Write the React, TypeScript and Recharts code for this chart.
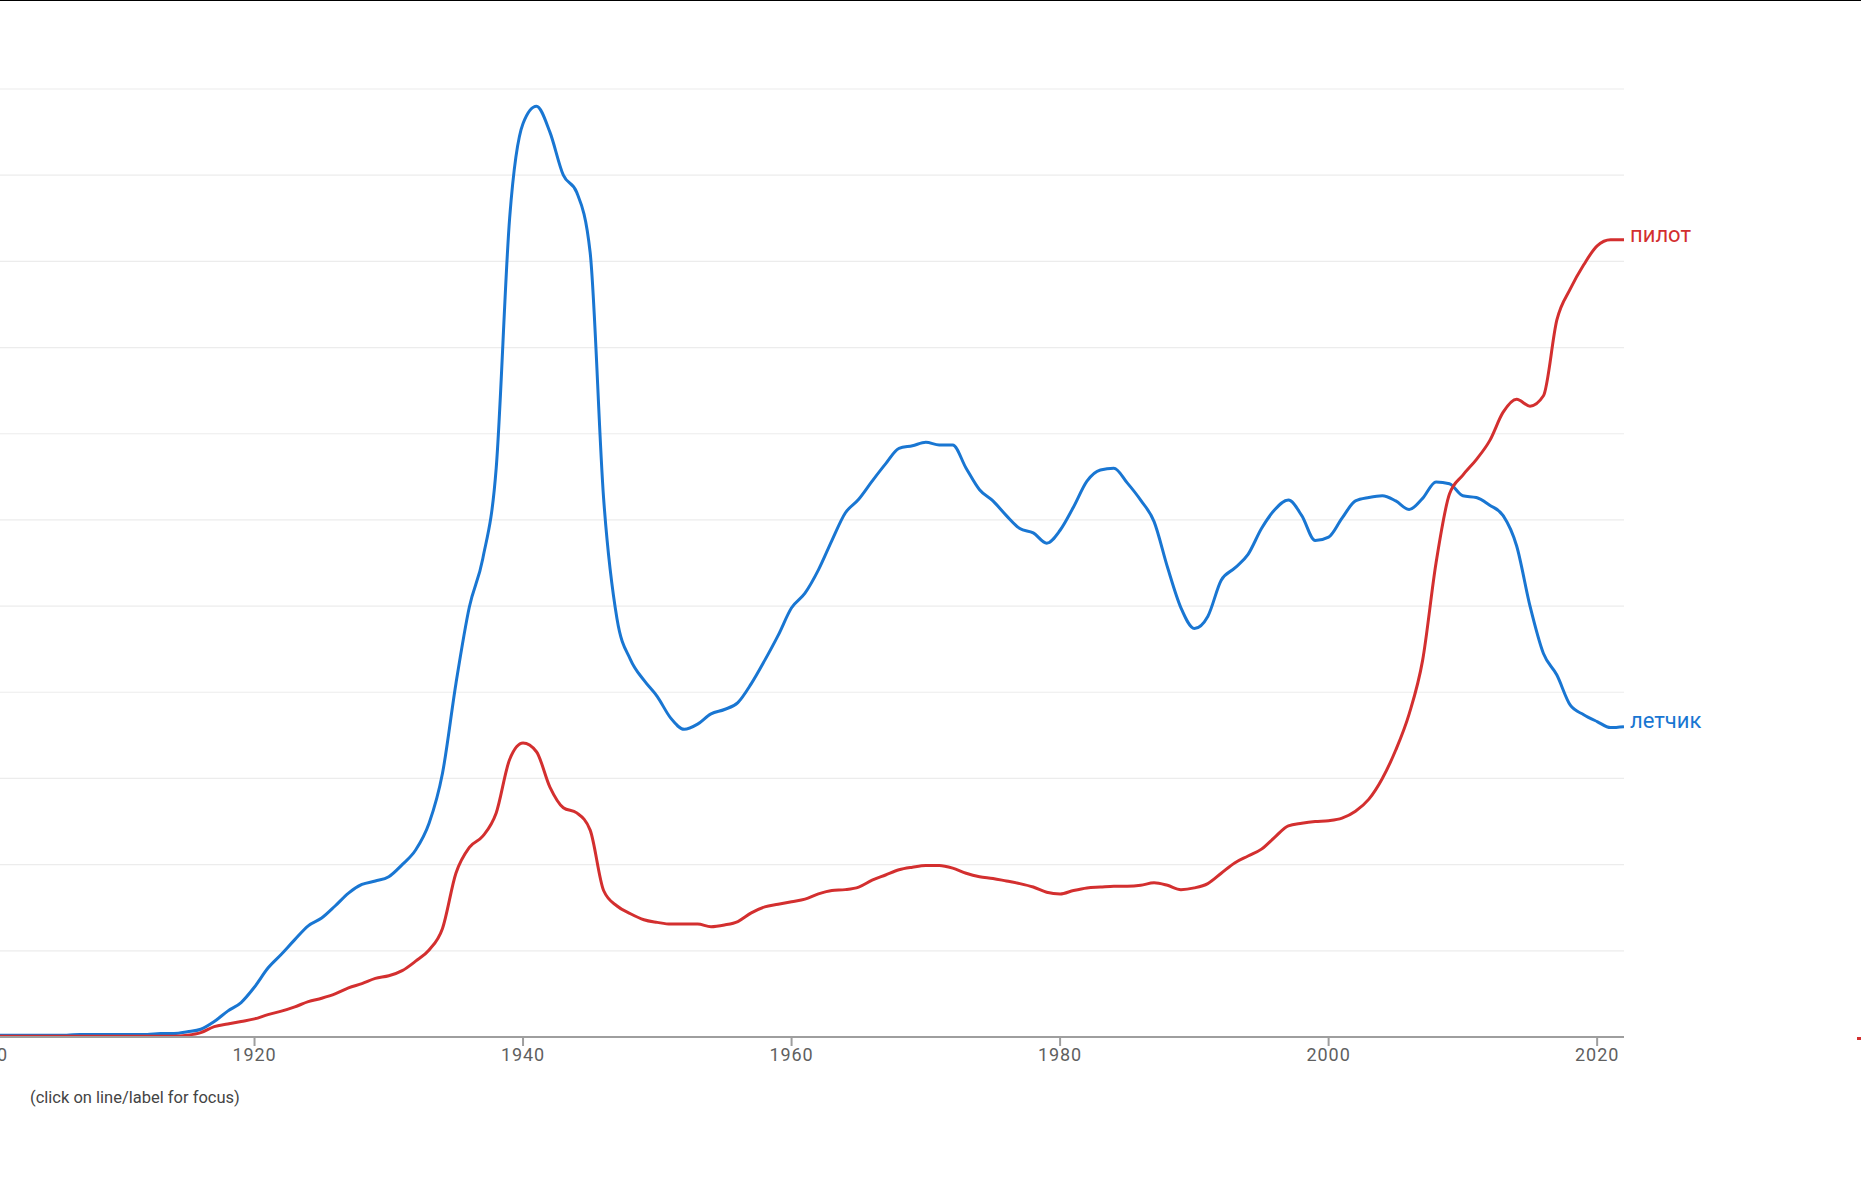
import { LineChart, Line, XAxis, YAxis, CartesianGrid } from "recharts";

const years = Array.from({ length: 123 }, (_v, i) => 1900 + i);

// летчик in grid units (0..11)
const letchik = [
  0.02, 0.02, 0.02, 0.02, 0.02, 0.02, 0.02, 0.03, 0.03, 0.03,
  0.03, 0.03, 0.03, 0.04, 0.04, 0.06, 0.09, 0.18, 0.3, 0.4,
  0.58, 0.8, 0.96, 1.13, 1.29, 1.38, 1.52, 1.67, 1.77, 1.81,
  1.86, 2.0, 2.17, 2.48, 3.06, 4.1, 4.99, 5.55, 6.6, 9.5,
  10.6, 10.8, 10.5, 10.0, 9.8, 9.1, 6.25, 4.85, 4.38, 4.14,
  3.95, 3.7, 3.57, 3.63, 3.75, 3.8, 3.88, 4.1, 4.37, 4.66,
  4.98, 5.15, 5.42, 5.76, 6.08, 6.24, 6.45, 6.65, 6.83, 6.86,
  6.9, 6.87, 6.87, 6.6, 6.35, 6.22, 6.05, 5.9, 5.85, 5.73,
  5.88, 6.15, 6.45, 6.58, 6.6, 6.43, 6.23, 5.98, 5.45, 4.98,
  4.74, 4.88, 5.3, 5.44, 5.6, 5.9, 6.12, 6.23, 6.05, 5.76,
  5.8, 6.02, 6.22, 6.26, 6.28, 6.22, 6.12, 6.25, 6.44, 6.42,
  6.28, 6.26, 6.17, 6.05, 5.7, 5.0, 4.45, 4.2, 3.85, 3.74,
  3.66, 3.59, 3.6,
];

// пилот
const pilot = [
  0.01, 0.01, 0.01, 0.01, 0.01, 0.01, 0.01, 0.01, 0.01, 0.01,
  0.01, 0.01, 0.01, 0.01, 0.01, 0.02, 0.05, 0.12, 0.15, 0.18,
  0.21, 0.26, 0.3, 0.35, 0.41, 0.45, 0.5, 0.57, 0.62, 0.68,
  0.71, 0.77, 0.88, 1.01, 1.26, 1.9, 2.2, 2.33, 2.6, 3.22,
  3.41, 3.31, 2.9, 2.66, 2.6, 2.4, 1.7, 1.52, 1.43, 1.36,
  1.33, 1.31, 1.31, 1.31, 1.28, 1.3, 1.34, 1.44, 1.51, 1.54,
  1.57, 1.6, 1.66, 1.7, 1.71, 1.74, 1.82, 1.88, 1.94, 1.97,
  1.99, 1.99, 1.96, 1.9, 1.86, 1.84, 1.81, 1.78, 1.74, 1.68,
  1.66, 1.7, 1.73, 1.74, 1.75, 1.75, 1.76, 1.79, 1.76, 1.71,
  1.73, 1.78, 1.9, 2.02, 2.1, 2.18, 2.32, 2.45, 2.48, 2.5,
  2.51, 2.54, 2.62, 2.76, 3.0, 3.33, 3.75, 4.37, 5.5, 6.3,
  6.52, 6.7, 6.92, 7.25, 7.4, 7.32, 7.44, 8.32, 8.68, 8.96,
  9.18, 9.25, 9.25,
];

const xTicks = [1900, 1920, 1940, 1960, 1980, 2000, 2020];
const yTicks = [0, 1, 2, 3, 4, 5, 6, 7, 8, 9, 10, 11];

const data = years.map((year, i) => ({ year, letchik: letchik[i], pilot: pilot[i] }));
const last = data.length - 1;

const BLUE = "#1976d2";
const RED = "#d32f2f";

function endLabel(text: string, color: string, dy: number) {
  return (props: any) => {
    if (props.index !== last) return null;
    return (
      <text
        x={props.x + 6}
        y={props.y + dy}
        fill={color}
        fontSize={22}
        fontFamily="Roboto"
        dominantBaseline="central"
      >
        {text}
      </text>
    );
  };
}

export default function App() {
  return (
    <div
      style={{
        position: "absolute",
        left: 0,
        top: 0,
        width: 1861,
        height: 1179,
        overflow: "hidden",
        background: "#fff",
        borderTop: "1.5px solid #000",
        boxSizing: "border-box",
      }}
    >
      <div style={{ position: "absolute", left: -14, top: -1.5 }}>
        <LineChart
          width={1875}
          height={1179}
          data={data}
          margin={{ top: 89, right: 237, left: 0, bottom: 82 }}
        >
          <CartesianGrid vertical={false} stroke="#ececec" strokeWidth={1.2} />
          <XAxis
            dataKey="year"
            type="number"
            domain={[1900, 2022]}
            ticks={xTicks}
            interval={0}
            allowDataOverflow
            height={60}
            axisLine={{ stroke: "#9e9e9e", strokeWidth: 2 }}
            tickLine={{ stroke: "#9e9e9e", strokeWidth: 2 }}
            tickSize={9}
            tick={{ fill: "#5f5f5f", fontSize: 18, fontFamily: "Roboto", letterSpacing: 0.9 }}
          />
          <YAxis hide domain={[0, 11]} ticks={yTicks} />
          <Line
            type="monotone"
            dataKey="letchik"
            stroke={BLUE}
            strokeWidth={3}
            dot={false}
            isAnimationActive={false}
            label={endLabel("летчик", BLUE, -6)}
          />
          <Line
            type="monotone"
            dataKey="pilot"
            stroke={RED}
            strokeWidth={3}
            dot={false}
            isAnimationActive={false}
            label={endLabel("пилот", RED, -5)}
          />
        </LineChart>
      </div>
      <div
        style={{
          position: "absolute",
          left: 30,
          top: 1087,
          fontFamily: "Roboto",
          fontSize: 16.5,
          color: "#444",
          whiteSpace: "nowrap",
        }}
      >
        (click on line/label for focus)
      </div>
      <div
        style={{
          position: "absolute",
          left: 1857,
          top: 1036,
          width: 4,
          height: 3,
          background: RED,
        }}
      />
    </div>
  );
}
